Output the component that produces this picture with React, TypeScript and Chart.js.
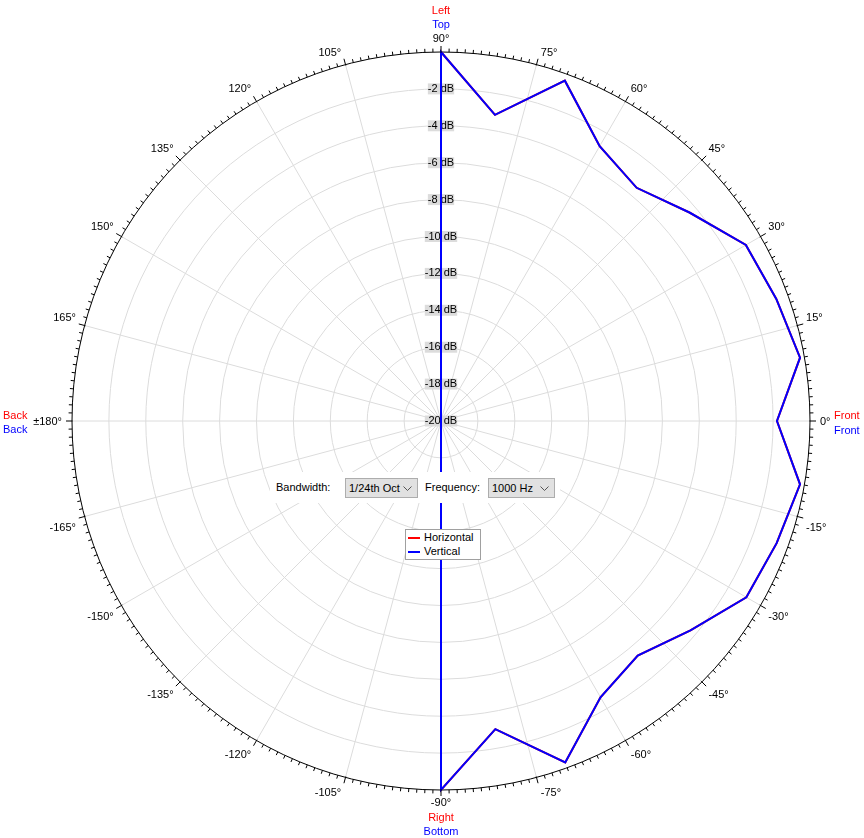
import { useEffect, useRef } from "react"
import { Chart, registerables } from "chart.js"

Chart.register(...registerables)

// radar categories, clockwise from the top, every 5 degrees
const gridAngles = [
  90, 85, 80, 75, 70, 65, 60, 55, 50, 45, 40, 35, 30, 25, 20, 15, 10, 5,
  0, -5, -10, -15, -20, -25, -30, -35, -40, -45, -50, -55, -60, -65, -70, -75, -80, -85,
  -90, -95, -100, -105, -110, -115, -120, -125, -130, -135, -140, -145, -150, -155, -160, -165, -170, -175,
  180, 175, 170, 165, 160, 155, 150, 145, 140, 135, 130, 125, 120, 115, 110, 105, 100, 95,
]

// measured directions (10 degree steps)
const measuredAngles = [
  90, 80, 70, 60, 50, 40, 30, 20, 10, 0, -10, -20, -30, -40, -50, -60, -70, -80, -90,
  -100, -110, -120, -130, -140, -150, -160, -170, 180, 170, 160, 150, 140, 130, 120, 110, 100,
]

const horizontalDb = [
  0, -3.15, -0.37, -2.8, -3.5, -2.42, -0.92, -0.66, -0.24, -1.79, -0.24, -0.64, -0.89, -2.35, -3.41, -2.71, -0.31, -3.04, 0,
  -20, -20, -20, -20, -20, -20, -20, -20, -20, -20, -20, -20, -20, -20, -20, -20, -20,
]

const verticalDb = [
  0, -3.15, -0.37, -2.8, -3.5, -2.42, -0.92, -0.66, -0.24, -1.79, -0.24, -0.64, -0.89, -2.35, -3.41, -2.71, -0.31, -3.04, 0,
  -20, -20, -20, -20, -20, -20, -20, -20, -20, -20, -20, -20, -20, -20, -20, -20, -20,
]

// angle labels round the rim
const angleLabels = [
  90, 75, 60, 45, 30, 15, 0, -15, -30, -45, -60, -75, -90, -105, -120, -135, -150, -165, 180, 165, 150, 135, 120, 105,
]

const seriesNames = ["Horizontal", "Vertical"]
const seriesColors = ["#ff0000", "#0000ff"]

const sideLabels = [
  { angle: 90, texts: ["Left", "Top"] },
  { angle: -90, texts: ["Right", "Bottom"] },
  { angle: 180, texts: ["Back", "Back"] },
  { angle: 0, texts: ["Front", "Front"] },
]

const FONT = '11px "Liberation Sans", Arial, sans-serif'
const FONT_FAMILY = '"Liberation Sans", Arial, sans-serif'

const measureCtx = document.createElement("canvas").getContext("2d")

const toSeries = (values: number[]) =>
  gridAngles.map((a) => {
    const i = measuredAngles.indexOf(a)
    return i >= 0 ? values[i] : null
  })

const indexFor = (deg: number) => (90 - deg) / (360 / gridAngles.length)

const polarDecor = {
  id: "polarDecor",
  afterDatasetsDraw(chart: any) {
    const s = chart.scales.r
    const R = s.drawingArea
    const ctx = chart.ctx as CanvasRenderingContext2D
    ctx.save()

    // rim ticks every 1.25 deg, long ones every 15 deg
    ctx.strokeStyle = "#000"
    ctx.lineWidth = 1
    ctx.beginPath()
    for (let k = 0; k < 288; k++) {
      const deg = k * 1.25
      const major = k % 12 === 0
      const p0 = s.getPointPosition(indexFor(deg), R - (major ? 1 : 0))
      const p1 = s.getPointPosition(indexFor(deg), R + (major ? 6 : 3.5))
      ctx.moveTo(p0.x, p0.y)
      ctx.lineTo(p1.x, p1.y)
    }
    ctx.stroke()

    ctx.font = FONT
    ctx.fillStyle = "#000"
    ctx.textBaseline = "alphabetic"
    angleLabels.forEach((deg) => {
      const p = s.getPointPosition(indexFor(deg), R)
      const a = (deg * Math.PI) / 180
      const c = Math.cos(a)
      const sn = Math.sin(a)
      const text = deg === 180 ? "±180°" : `${deg}°`
      let x = p.x
      let y = p.y
      if (Math.abs(c) < 1e-6) {
        ctx.textAlign = "center"
        y = sn > 0 ? p.y - 10 : p.y + 16
      } else if (Math.abs(sn) < 1e-6) {
        ctx.textAlign = c > 0 ? "left" : "right"
        x = p.x + Math.sign(c) * 10
        y = p.y + 4
      } else {
        ctx.textAlign = c > 0 ? "left" : "right"
        x = p.x + Math.sign(c) * (4 + 5 * c * c)
        y = sn > 0 ? p.y - (3 + 5 * sn * sn + 12 * sn * sn * c * c) : p.y + (5.7 + 5 * sn * sn) + 8
      }
      ctx.fillText(text, x, y)
    })

    sideLabels.forEach(({ angle, texts }) => {
      const p = s.getPointPosition(indexFor(angle), R)
      texts.forEach((t, i) => {
        ctx.fillStyle = seriesColors[i]
        if (angle === 90) {
          ctx.textAlign = "center"
          ctx.fillText(t, p.x, p.y - 38 + i * 14)
        } else if (angle === -90) {
          ctx.textAlign = "center"
          ctx.fillText(t, p.x, p.y + 30.5 + i * 14)
        } else if (angle === 180) {
          ctx.textAlign = "left"
          ctx.fillText(t, 3, p.y - 2.5 + i * 14.5)
        } else {
          ctx.textAlign = "left"
          ctx.fillText(t, p.x + 24, p.y - 2 + i * 14.5)
        }
      })
    })

    ctx.restore()
  },
}

function Combo({ left, width, text }: { left: number; width: number; text: string }) {
  return (
    <div
      style={{
        position: "absolute",
        left,
        top: 478,
        width,
        height: 20,
        boxSizing: "border-box",
        border: "1px solid #adadad",
        background: "#e1e1e1",
        fontFamily: FONT_FAMILY,
        fontSize: 11,
        lineHeight: "18px",
        paddingLeft: 3,
        color: "#000",
        whiteSpace: "nowrap",
        overflow: "hidden",
      }}
    >
      {text}
      <svg
        width="9"
        height="6"
        style={{ position: "absolute", right: 5, top: 7 }}
      >
        <polyline points="0.5,0.5 4.5,4.5 8.5,0.5" fill="none" stroke="#555" strokeWidth="1" />
      </svg>
    </div>
  )
}

export default function App() {
  const chartRef = useRef<HTMLCanvasElement>(null)
  const chartInstance = useRef<Chart | null>(null)

  useEffect(() => {
    if (!chartRef.current) return
    if (chartInstance.current) chartInstance.current.destroy()
    const ctx = chartRef.current.getContext("2d")
    if (!ctx) return

    chartInstance.current = new Chart(ctx, {
      type: "radar",
      data: {
        labels: gridAngles,
        datasets: [
          {
            label: seriesNames[0],
            data: toSeries(horizontalDb),
            borderColor: seriesColors[0],
            borderWidth: 2,
            pointRadius: 0,
            fill: false,
            spanGaps: true,
            tension: 0,
            order: 1,
          },
          {
            label: seriesNames[1],
            data: toSeries(verticalDb),
            borderColor: seriesColors[1],
            borderWidth: 2,
            pointRadius: 0,
            fill: false,
            spanGaps: true,
            tension: 0,
            order: 0,
          },
        ],
      },
      options: {
        animation: false,
        responsive: true,
        maintainAspectRatio: false,
        layout: { padding: 0 },
        plugins: {
          legend: { display: false },
          tooltip: { enabled: false },
        },
        scales: {
          r: {
            min: -20,
            max: 0,
            startAngle: 0,
            afterFit: (scale: any) => {
              scale.xCenter = 441
              scale.yCenter = 421
              scale.drawingArea = 369
            },
            ticks: {
              stepSize: 2,
              color: "#000",
              font: { family: FONT_FAMILY, size: 11 },
              callback: (v: any) => (v === 0 ? "" : `${v} dB`),
              showLabelBackdrop: true,
              backdropColor: (c: any) => (c.tick && c.tick.value === 0 ? "rgba(0,0,0,0)" : "#dcdcdc"),
              backdropPadding: (c: any) => {
                let w = 0
                if (measureCtx && c.tick) {
                  measureCtx.font = FONT
                  w = measureCtx.measureText(String(c.tick.label)).width
                }
                const pad = Math.max(1, (37 - w) / 2)
                return { left: pad, right: pad, top: 1, bottom: 1 }
              },
            },
            grid: {
              circular: true,
              color: (c: any) => (c.tick && c.tick.value === 0 ? "#000" : "#dcdcdc"),
              lineWidth: 1,
            },
            angleLines: {
              display: true,
              color: "#dcdcdc",
              lineWidth: (c: any) => (Number(c.label) % 15 === 0 ? 1 : 0),
            },
            pointLabels: { display: false },
          },
        },
      },
      plugins: [polarDecor],
    })

    return () => {
      if (chartInstance.current) {
        chartInstance.current.destroy()
        chartInstance.current = null
      }
    }
  }, [])

  return (
    <div style={{ position: "absolute", left: 0, top: 0, width: 864, height: 838, background: "#fff" }}>
      <canvas ref={chartRef} />

      {/* bandwidth / frequency controls */}
      <div style={{ position: "absolute", left: 270, top: 472, width: 290, height: 31, background: "#fff" }} />
      <div
        style={{
          position: "absolute",
          left: 276,
          top: 481,
          fontFamily: FONT_FAMILY,
          fontSize: 11,
          lineHeight: "13px",
          color: "#000",
        }}
      >
        Bandwidth:
      </div>
      <Combo left={345} width={73} text="1/24th Oct" />
      <div
        style={{
          position: "absolute",
          left: 425,
          top: 481,
          fontFamily: FONT_FAMILY,
          fontSize: 11,
          lineHeight: "13px",
          color: "#000",
        }}
      >
        Frequency:
      </div>
      <Combo left={488} width={67} text="1000 Hz" />

      {/* legend */}
      <div
        style={{
          position: "absolute",
          left: 405,
          top: 529,
          width: 76,
          height: 31,
          boxSizing: "border-box",
          border: "1px solid #a0a0a0",
          background: "#fff",
          fontFamily: FONT_FAMILY,
          fontSize: 11,
          color: "#000",
        }}
      >
        {seriesNames.map((name, i) => (
          <div key={name} style={{ position: "absolute", left: 2, top: 1 + i * 14, height: 14, whiteSpace: "nowrap" }}>
            <span
              style={{
                position: "absolute",
                left: 0,
                top: 6,
                width: 12,
                height: 2,
                background: seriesColors[i],
              }}
            />
            <span style={{ position: "absolute", left: 16, top: 0, lineHeight: "13px" }}>{name}</span>
          </div>
        ))}
      </div>
    </div>
  )
}
